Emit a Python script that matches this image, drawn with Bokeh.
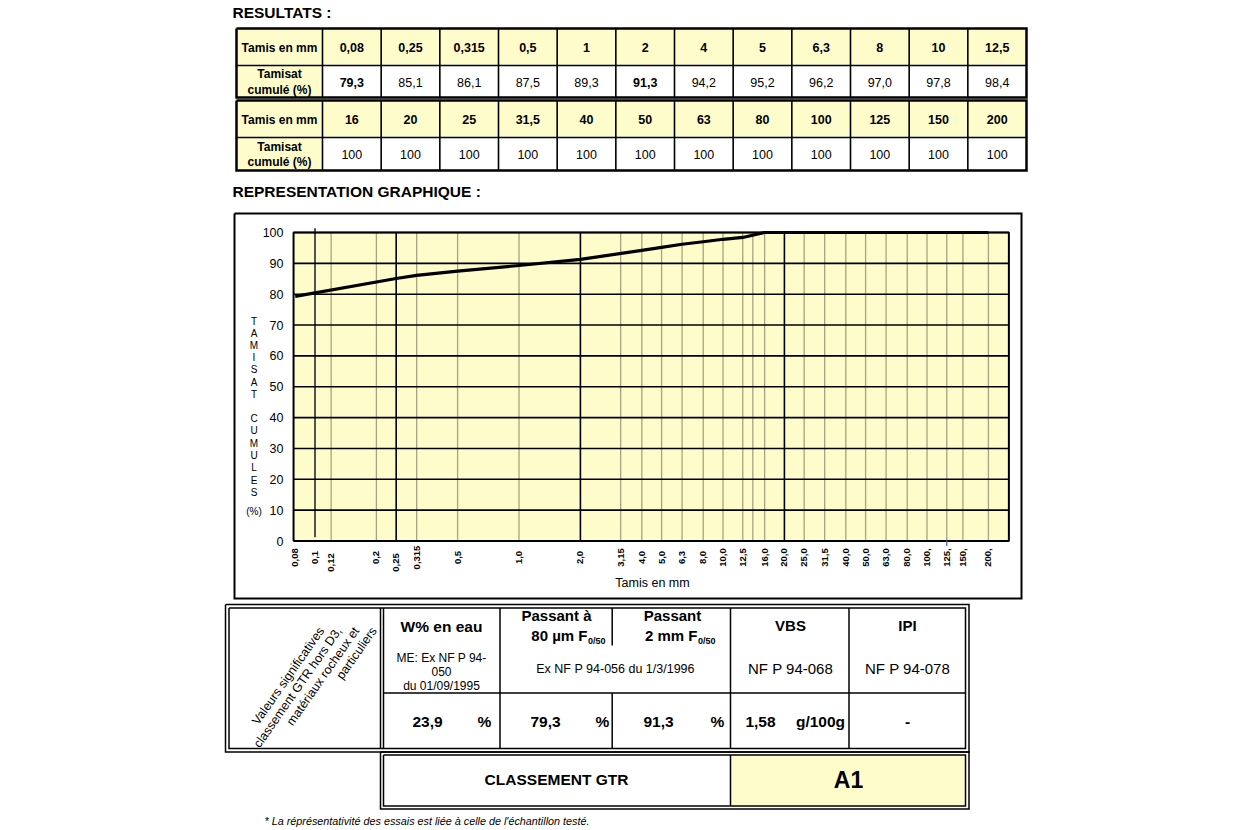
import math
from bokeh.plotting import figure
from bokeh.models import Range1d, LogScale
from bokeh.core.properties import value
from bokeh.embed import file_html
from bokeh.resources import INLINE

# ------------------------------------------------------------------ data
sieves_mm = [0.08, 0.25, 0.315, 0.5, 1, 2, 4, 5, 6.3, 8, 10, 12.5,
             16, 20, 25, 31.5, 40, 50, 63, 80, 100, 125, 150, 200]
passing_pct = [79.3, 85.1, 86.1, 87.5, 89.3, 91.3, 94.2, 95.2, 96.2, 97.0, 97.8, 98.4,
               100, 100, 100, 100, 100, 100, 100, 100, 100, 100, 100, 100]
bold_sieves = [0.08, 2]

axis_tick_values = [0.08, 0.1, 0.12, 0.2, 0.25, 0.315, 0.5, 1.0, 2.0, 3.15, 4, 5, 6.3, 8,
                    10, 12.5, 16, 20, 25, 31.5, 40, 50, 63, 80, 100, 125, 150, 200]
axis_tick_labels = ["0,08", "0,1", "0,12", "0,2", "0,25", "0,315", "0,5", "1,0", "2,0",
                    "3,15", "4,0", "5,0", "6,3", "8,0", "10,0", "12,5", "16,0", "20,0",
                    "25,0", "31,5", "40,0", "50,0", "63,0", "80,0", "100,", "125,",
                    "150,", "200,"]
staggered_labels = ["0,12", "0,25"]
grid_light = [0.12, 0.2, 0.315, 0.5, 1.0, 3.15, 4, 5, 6.3, 8, 10, 12.5, 14, 16,
              25, 31.5, 40, 50, 63, 80, 100, 125, 150, 200]
grid_dark = [0.25, 2.0, 20]
marker_line_mm = 0.1
y_ticks = [0, 10, 20, 30, 40, 50, 60, 70, 80, 90, 100]

w_eau = 23.9
passant_80um = 79.3
passant_2mm = 91.3
vbs = 1.58
ipi = "-"
classement = "A1"

# ------------------------------------------------------------------ layout
W, H = 1250, 830
FONT = value("Liberation Sans")
YELLOW = "#fffccc"
GRID_LIGHT_COLOR = "#a9a47e"

# chart scale (pixels of the page used to place the log chart)
X_ONE_MM = 518.5
PX_PER_DECADE = 204.0
Y_ZERO = 540.5
PX_PER_PCT = 3.085
CHART_X_MIN, CHART_X_MAX = 0.0785, 252.0

p = figure(width=W, height=H, x_range=Range1d(0, W), y_range=Range1d(H, 0),
           x_axis_location=None, y_axis_location=None, toolbar_location=None,
           output_backend="svg", min_border=0, outline_line_color=None, title=None)
p.grid.visible = False
p.background_fill_color = "white"
p.border_fill_color = "white"
p.extra_x_ranges = {"log": Range1d(10 ** ((0 - X_ONE_MM) / PX_PER_DECADE),
                                   10 ** ((W - X_ONE_MM) / PX_PER_DECADE))}
p.extra_x_scales = {"log": LogScale()}
p.extra_y_ranges = {"pct": Range1d((Y_ZERO - H) / PX_PER_PCT, Y_ZERO / PX_PER_PCT)}


def txt(x, y, s, size, style="normal", align="center", baseline="middle", angle=0.0,
        color="black", xr="default", yr="default", lh=1.2):
    if not isinstance(x, list):
        x = [x]
    if not isinstance(s, list):
        s = [s]
    if not isinstance(y, list):
        y = [y] * len(s)
    if len(x) == 1 and len(s) > 1:
        x = x * len(s)
    p.text(x=x, y=y, text=s, text_font=FONT, text_font_size=f"{size}px",
           text_font_style=style, text_align=align, text_baseline=baseline,
           angle=angle, text_color=color, x_range_name=xr, y_range_name=yr,
           text_line_height=lh)


def rect_lines(l, t, r, b, w=1.5):
    p.multi_line(xs=[[l, r, r, l, l]], ys=[[t, t, b, b, t]], line_color="black",
                 line_width=w, line_join="miter")


def fmt(v, dec=None):
    if dec is None:
        return f"{v:g}".replace(".", ",")
    return f"{v:.{dec}f}".replace(".", ",")


# ------------------------------------------------------------------ titles
txt(232, 12, "RESULTATS :", 15.5, "bold", align="left")
txt(232, 191, "REPRESENTATION GRAPHIQUE :", 15.5, "bold", align="left")

# ------------------------------------------------------------------ result tables
T_LEFT, T_LABEL_W, T_RIGHT = 236, 86, 1026
col_w = (T_RIGHT - T_LEFT - T_LABEL_W) / 12
for k, (top, mid, bot) in enumerate([(28, 65, 97), (100, 137, 170)]):
    sz = sieves_mm[12 * k:12 * k + 12]
    vals = passing_pct[12 * k:12 * k + 12]
    lefts = [T_LEFT + T_LABEL_W + i * col_w for i in range(12)]
    rights = [l + col_w for l in lefts]
    p.quad(left=[T_LEFT], right=[T_LEFT + T_LABEL_W], top=[top], bottom=[bot],
           fill_color=YELLOW, line_color=None)
    p.quad(left=lefts, right=rights, top=[top] * 12, bottom=[mid] * 12,
           fill_color=YELLOW, line_color=None)
    xs = [[x, x] for x in [T_LEFT + T_LABEL_W] + lefts[1:]]
    ys = [[top, bot] for _ in xs]
    p.multi_line(xs=xs + [[T_LEFT, T_RIGHT]], ys=ys + [[mid, mid]],
                 line_color="black", line_width=1.6)
    rect_lines(T_LEFT, top, T_RIGHT, bot, 2.5)
    txt(T_LEFT + T_LABEL_W / 2, (top + mid) / 2 + 0.5, "Tamis en mm", 12, "bold")
    txt(T_LEFT + T_LABEL_W / 2, (mid + bot) / 2 + 0.5, "Tamisat\ncumulé (%)", 12, "bold",
        lh=1.1)
    cx = [l + col_w / 2 for l in lefts]
    txt(cx, [(top + mid) / 2 + 0.5] * 12, [fmt(s) for s in sz], 12.5, "bold")
    for i in range(12):
        label = fmt(vals[i], 1) if vals[i] < 100 else fmt(vals[i], 0)
        style = "bold" if sz[i] in bold_sieves else "normal"
        txt(cx[i], (mid + bot) / 2 + 0.5, label, 12.5, style)

# ------------------------------------------------------------------ chart
rect_lines(234, 213, 1021, 598, 2)
LG = dict(x_range_name="log", y_range_name="pct")
p.quad(left=[CHART_X_MIN], right=[CHART_X_MAX], bottom=[0], top=[100],
       fill_color=YELLOW, line_color=None, **LG)
p.segment(x0=grid_light, x1=grid_light, y0=[0] * len(grid_light), y1=[100] * len(grid_light),
          line_color=GRID_LIGHT_COLOR, line_width=1.3, **LG)
p.segment(x0=grid_dark, x1=grid_dark, y0=[0] * 3, y1=[100] * 3,
          line_color="black", line_width=1.6, **LG)
p.segment(x0=[marker_line_mm], x1=[marker_line_mm], y0=[1.2], y1=[101.4],
          line_color="#1a1a2e", line_width=1.5, **LG)
p.segment(x0=[CHART_X_MIN] * len(y_ticks), x1=[CHART_X_MAX] * len(y_ticks),
          y0=y_ticks, y1=y_ticks, line_color="black", line_width=1.6, **LG)
p.multi_line(xs=[[CHART_X_MIN, CHART_X_MAX, CHART_X_MAX, CHART_X_MIN, CHART_X_MIN]],
             ys=[[0, 0, 100, 100, 0]], line_color="black", line_width=2, **LG)
p.segment(x0=[125], x1=[125], y0=[0.5], y1=[-1.6], line_color="#3a62c8", line_width=1.2, **LG)
p.line(sieves_mm, passing_pct, line_color="black", line_width=3.2, line_join="round", **LG)

# axis tick labels
tick_y = [562 if t in staggered_labels else 557 for t in axis_tick_labels]
txt(axis_tick_values, tick_y, axis_tick_labels, 9.5, "bold", angle=math.pi / 2, xr="log")
txt([283] * len(y_ticks), y_ticks, [str(v) for v in y_ticks], 12.5, align="right", yr="pct")
txt(652, 582, "Tamis en mm", 12.5)

# vertical axis title (stacked letters)
letters, ly = [], []
for i, ch in enumerate("TAMISAT"):
    letters.append(ch); ly.append(320.5 + 12.2 * i)
for i, ch in enumerate("CUMULES"):
    letters.append(ch); ly.append(418 + 12.3 * i)
letters.append("(%)"); ly.append(510.5)
txt([253.5] * len(letters), ly, letters, 10)

# ------------------------------------------------------------------ bottom table
rect_lines(225, 604, 968.5, 751.5)
rect_lines(228.5, 607.5, 965, 748)
p.quad(left=[730], right=[965], top=[754.5], bottom=[805.5], fill_color=YELLOW, line_color=None)
rect_lines(380, 751.5, 968.5, 808.5)
rect_lines(383, 754.5, 965, 805.5)
vx = [[380, 380], [383, 383], [499.5, 499.5], [730, 730], [848.5, 848.5],
      [611.7, 611.7], [611.7, 611.7], [383, 965], [730, 730]]
vy = [[607.5, 748], [607.5, 748], [607.5, 748], [607.5, 748], [607.5, 748],
      [607.5, 645], [692.5, 748], [692.5, 692.5], [754.5, 805.5]]
p.multi_line(xs=vx, ys=vy, line_color="black", line_width=1.5)

diag_lines = ["Valeurs significatives", "classement GTR hors D3,",
              "matériaux rocheux et", "particuliers"]
txt([321 + 17.5 * i for i in range(4)], [628] * 4, diag_lines, 12.5,
    align="right", angle=math.radians(55))

txt(441, 626, "W% en eau", 15.5, "bold")
txt(441, [657, 671, 685], ["ME: Ex NF P 94-", "050", "du 01/09/1995"], 12)
txt(556, 615, "Passant à", 15, "bold")
txt(587, 635, "80 µm F", 15, "bold", align="right")
txt(587.5, 640, "0/50", 9, "bold", align="left")
txt(672, 615, "Passant", 15, "bold")
txt(697, 635, "2 mm F", 15, "bold", align="right")
txt(697.5, 640, "0/50", 9, "bold", align="left")
txt(615, 668, "Ex NF P 94-056 du 1/3/1996", 12.5)
txt(790, 625, "VBS", 15, "bold")
txt(907, 625, "IPI", 15, "bold")
txt(790, 668, "NF P 94-068", 15)
txt(907, 668, "NF P 94-078", 15)

VY = 721
txt(427, VY, fmt(w_eau, 1), 15.5, "bold")
txt(484, VY, "%", 15.5, "bold")
txt(545, VY, fmt(passant_80um, 1), 15.5, "bold")
txt(602, VY, "%", 15.5, "bold")
txt(658, VY, fmt(passant_2mm, 1), 15.5, "bold")
txt(717, VY, "%", 15.5, "bold")
txt(760, VY, fmt(vbs, 2), 15.5, "bold")
txt(820, VY, "g/100g", 15.5, "bold")
txt(907, VY, ipi, 15.5, "bold")

txt(556, 779, "CLASSEMENT GTR", 15.5, "bold")
txt(848, 779, classement, 23, "bold")

txt(264, 820, "* La réprésentativité des essais est liée à celle de l'échantillon testé.",
    10.8, "italic", align="left")

open("out.html", "w").write(file_html(p, INLINE))
